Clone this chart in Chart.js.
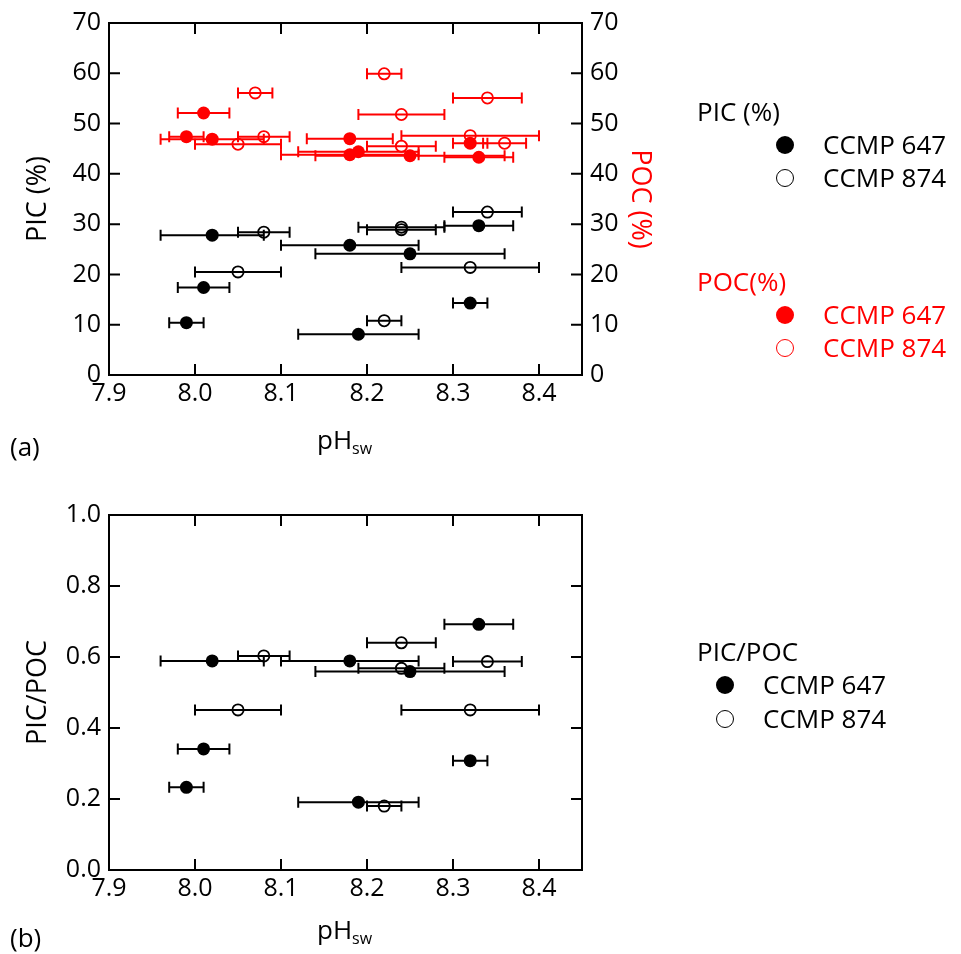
<!DOCTYPE html>
<html><head><meta charset="utf-8">
<script src="https://cdn.jsdelivr.net/npm/chart.js@4.4.0/dist/chart.umd.min.js"></script>
<style>
html,body{margin:0;padding:0;background:#fff;}
body{width:961px;height:954px;position:relative;overflow:hidden;font-family:"Open Sans",sans-serif;color:#000;}
canvas{position:absolute;left:0;}
.t{position:absolute;white-space:nowrap;line-height:1;font-size:26px;}
.r{color:#ff0000;}
.m{position:absolute;border-radius:50%;box-sizing:border-box;width:18px;height:18px;}
.f{background:#000;}
.o{border:1.5px solid #000;}
.fr{background:#ff0000;}
.or{border:1.5px solid #ff0000;}
sub{font-size:16px;vertical-align:-5px;line-height:1;}
</style></head><body>
<canvas id="c1" width="961" height="477" style="top:0"></canvas>
<canvas id="c2" width="961" height="477" style="top:477px"></canvas>

<div class="t" style="left:697px;top:98px">PIC (%)</div>
<div class="m f" style="left:776px;top:136px"></div><div class="t" style="left:823px;top:131px">CCMP 647</div>
<div class="m o" style="left:776px;top:169px"></div><div class="t" style="left:823px;top:164px">CCMP 874</div>
<div class="t r" style="left:697px;top:268px">POC(%)</div>
<div class="m fr" style="left:776px;top:306px"></div><div class="t r" style="left:823px;top:301px">CCMP 647</div>
<div class="m or" style="left:776px;top:339px"></div><div class="t r" style="left:823px;top:334px">CCMP 874</div>

<div class="t" style="left:697px;top:638px">PIC/POC</div>
<div class="m f" style="left:716px;top:676px"></div><div class="t" style="left:763px;top:671px">CCMP 647</div>
<div class="m o" style="left:716px;top:710px"></div><div class="t" style="left:763px;top:705px">CCMP 874</div>

<div class="t" style="left:10px;top:433px">(a)</div>
<div class="t" style="left:317px;top:426px">pH<sub>sw</sub></div>
<div class="t" style="left:10px;top:924px">(b)</div>
<div class="t" style="left:317px;top:916px">pH<sub>sw</sub></div>

<script>
// ---- tick labels ----
const pHTicks = [7.9, 8.0, 8.1, 8.2, 8.3, 8.4];
const pctTicks = [0, 10, 20, 30, 40, 50, 60, 70];
const ratioTicks = [0.0, 0.2, 0.4, 0.6, 0.8, 1.0];

// ---- (a) PIC (%) ----
const pic647_pH  = [7.99, 8.01, 8.02, 8.18, 8.19, 8.25, 8.32, 8.33];
const pic647_err = [0.02, 0.03, 0.06, 0.08, 0.07, 0.11, 0.02, 0.04];
const pic647_val = [10.4, 17.4, 27.8, 25.8, 8.1, 24.1, 14.3, 29.7];

const pic874_pH  = [8.05, 8.08, 8.22, 8.24, 8.24, 8.32, 8.34];
const pic874_err = [0.05, 0.03, 0.02, 0.05, 0.04, 0.08, 0.04];
const pic874_val = [20.5, 28.4, 10.8, 29.4, 28.9, 21.4, 32.4];

// ---- (a) POC (%) ----
const poc647_pH  = [7.99, 8.01, 8.02, 8.18, 8.18, 8.19, 8.25, 8.32, 8.33];
const poc647_err = [0.02, 0.03, 0.06, 0.05, 0.08, 0.07, 0.11, 0.02, 0.04];
const poc647_val = [47.4, 52.1, 46.9, 47.0, 43.8, 44.4, 43.6, 46.1, 43.3];

const poc874_pH  = [8.05, 8.07, 8.08, 8.22, 8.24, 8.24, 8.32, 8.34, 8.36];
const poc874_err = [0.05, 0.02, 0.03, 0.02, 0.05, 0.04, 0.08, 0.04, 0.025];
const poc874_val = [45.9, 56.1, 47.4, 59.9, 51.8, 45.5, 47.6, 55.1, 46.1];

// ---- (b) PIC/POC ----
const ratio647_pH  = [7.99, 8.01, 8.02, 8.18, 8.19, 8.25, 8.32, 8.33];
const ratio647_err = [0.02, 0.03, 0.06, 0.08, 0.07, 0.11, 0.02, 0.04];
const ratio647_val = [0.233, 0.341, 0.589, 0.589, 0.191, 0.559, 0.308, 0.692];

const ratio874_pH  = [8.05, 8.08, 8.22, 8.24, 8.24, 8.32, 8.34];
const ratio874_err = [0.05, 0.03, 0.02, 0.04, 0.05, 0.08, 0.04];
const ratio874_val = [0.451, 0.603, 0.180, 0.640, 0.568, 0.451, 0.587];

const FONT = "'Open Sans', sans-serif";
const RED = '#ff0000';

function pts(xs, ys) { return xs.map((x, i) => ({x: x, y: ys[i]})); }
function ds(label, xs, ys, errs, color, filled, axis) {
  return {
    label: label, data: pts(xs, ys), xErr: errs, yAxisID: axis,
    pointRadius: filled ? 6.5 : 5.6,
    pointBorderWidth: filled ? 0 : 1.8,
    pointBackgroundColor: filled ? color : 'rgba(0,0,0,0)',
    pointBorderColor: color,
    borderColor: color, backgroundColor: color,
    showLine: false
  };
}

const errorBars = {
  id: 'errorBars',
  beforeDatasetsDraw(chart) {
    const ctx = chart.ctx, xs = chart.scales.x;
    ctx.save();
    chart.data.datasets.forEach((d, i) => {
      const meta = chart.getDatasetMeta(i);
      ctx.strokeStyle = d.borderColor; ctx.lineWidth = 2;
      d.data.forEach((p, j) => {
        const e = d.xErr[j];
        const x1 = xs.getPixelForValue(p.x - e), x2 = xs.getPixelForValue(p.x + e);
        const y = meta.data[j].y;
        ctx.beginPath();
        ctx.moveTo(x1, y); ctx.lineTo(x2, y);
        ctx.moveTo(x1, y - 5.5); ctx.lineTo(x1, y + 5.5);
        ctx.moveTo(x2, y - 5.5); ctx.lineTo(x2, y + 5.5);
        ctx.stroke();
      });
    });
    ctx.restore();
  }
};

const frameTicks = {
  id: 'frameTicks',
  afterDraw(chart) {
    const ctx = chart.ctx, a = chart.chartArea, xs = chart.scales.x, ys = chart.scales.y;
    const L = 11;
    ctx.save();
    ctx.strokeStyle = '#000'; ctx.lineWidth = 2;
    ctx.strokeRect(a.left, a.top, a.right - a.left, a.bottom - a.top);
    ctx.beginPath();
    xs.ticks.forEach(t => {
      const x = xs.getPixelForValue(t.value);
      ctx.moveTo(x, a.bottom); ctx.lineTo(x, a.bottom - L);
      ctx.moveTo(x, a.top); ctx.lineTo(x, a.top + L);
    });
    ys.ticks.forEach(t => {
      const y = ys.getPixelForValue(t.value);
      ctx.moveTo(a.left, y); ctx.lineTo(a.left + L, y);
      ctx.moveTo(a.right, y); ctx.lineTo(a.right - L, y);
    });
    ctx.stroke();
    ctx.restore();
  }
};

function xScale(height) {
  return {
    type: 'linear', min: 7.9, max: 8.45,
    afterBuildTicks: s => { s.ticks = pHTicks.map(v => ({value: v})); },
    afterFit: s => { s.height = height; },
    grid: {display: false, drawTicks: false},
    border: {display: false},
    ticks: {color: '#000', font: {family: FONT, size: 25}, padding: 4, maxRotation: 0,
            callback: v => v.toFixed(1)}
  };
}
function yScale(min, max, tickVals, digits, pos, width, titleText, titleColor, titlePad) {
  return {
    type: 'linear', position: pos, min: min, max: max,
    afterBuildTicks: s => { s.ticks = tickVals.map(v => ({value: v})); },
    afterFit: s => { s.width = width; },
    grid: {display: false, drawTicks: false},
    border: {display: false},
    ticks: {color: '#000', font: {family: FONT, size: 25}, padding: 8,
            callback: v => v.toFixed(digits)},
    title: {display: true, text: titleText, color: titleColor,
            font: {family: FONT, size: 27}, padding: {top: titlePad, bottom: 0}}
  };
}

Chart.defaults.font.family = FONT;

new Chart(document.getElementById('c1'), {
  type: 'scatter',
  data: {datasets: [
    ds('PIC CCMP 647', pic647_pH, pic647_val, pic647_err, '#000', true, 'y'),
    ds('PIC CCMP 874', pic874_pH, pic874_val, pic874_err, '#000', false, 'y'),
    ds('POC CCMP 647', poc647_pH, poc647_val, poc647_err, RED, true, 'y2'),
    ds('POC CCMP 874', poc874_pH, poc874_val, poc874_err, RED, false, 'y2')
  ]},
  options: {
    responsive: false, animation: false, devicePixelRatio: 1,
    layout: {padding: {left: 0, right: 305, top: 22, bottom: 0}},
    plugins: {legend: {display: false}, tooltip: {enabled: false}},
    scales: {
      x: xScale(102),
      y: yScale(0, 70, pctTicks, 0, 'left', 109, 'PIC (%)', '#000', 22),
      y2: yScale(0, 70, pctTicks, 0, 'right', 74, 'POC (%)', RED, 0)
    }
  },
  plugins: [errorBars, frameTicks]
});

new Chart(document.getElementById('c2'), {
  type: 'scatter',
  data: {datasets: [
    ds('PIC/POC CCMP 647', ratio647_pH, ratio647_val, ratio647_err, '#000', true, 'y'),
    ds('PIC/POC CCMP 874', ratio874_pH, ratio874_val, ratio874_err, '#000', false, 'y')
  ]},
  options: {
    responsive: false, animation: false, devicePixelRatio: 1,
    layout: {padding: {left: 0, right: 379, top: 38, bottom: 0}},
    plugins: {legend: {display: false}, tooltip: {enabled: false}},
    scales: {
      x: xScale(84),
      y: yScale(0, 1, ratioTicks, 1, 'left', 109, 'PIC/POC', '#000', 22)
    }
  },
  plugins: [errorBars, frameTicks]
});
</script>
</body></html>
